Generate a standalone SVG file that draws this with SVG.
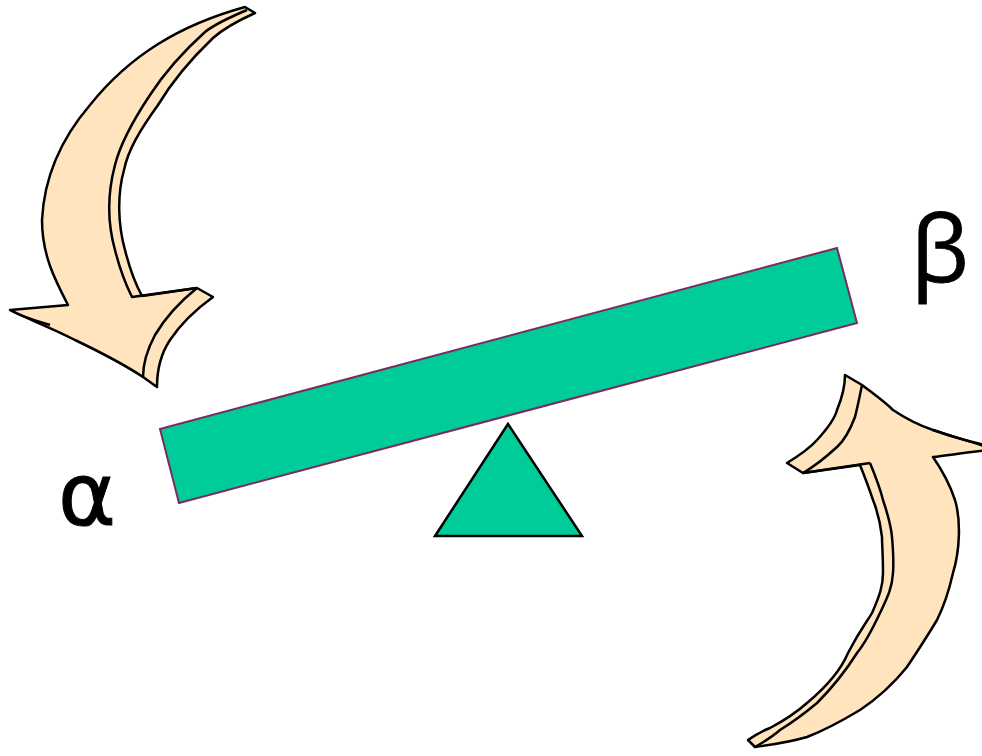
<svg xmlns="http://www.w3.org/2000/svg" width="982" height="756" viewBox="0 0 982 756">
<style>
.arrow{fill:#FFE4BE;stroke:#000;stroke-width:2.5;stroke-linejoin:round}
.line{fill:none;stroke:#000;stroke-width:2.5;stroke-linejoin:round}
.lbl{font-family:"DejaVu Sans","Open Sans",sans-serif;font-size:88px;fill:#000;stroke:#000;stroke-width:1}
.lbl2{font-family:"Open Sans","DejaVu Sans",sans-serif;font-size:92px;fill:#000;stroke:#000;stroke-width:0.8}
</style>
<rect width="982" height="756" fill="#fff"/>
<g id="plank">
<polygon points="160,429 837,248 857,323 179,503" fill="#00CC99" stroke="#7A2C5C" stroke-width="2"/>
</g>
<g id="fulcrum">
<polygon points="508,424 435,536 582,536" fill="#00CC99" stroke="#000" stroke-width="2.5"/>
</g>
<g id="arrow-top-left">
<path class="arrow" d="M245,7 L255,13 C235,22 222,30 213,38 C190,60 170,85 158,105 C140,130 128,150 124,170 C117,195 118,225 125,250 C130,270 136,285 142,296 L197,288 L213,297 C195,310 180,325 170,340 C160,355 157,370 157,387 L143,377 C125,365 100,352 75,340 C50,327 25,318 10,310 L68,305 C55,280 42,255 42,220 C44,180 60,140 90,105 C130,55 180,25 245,7 Z"/>
<path class="line" d="M247,10 C228,18 215,24 205,32 C185,50 165,72 150,95 C132,122 120,145 115,165 C107,195 108,225 115,250 C120,270 126,285 132,297 L197,288"/>
<path class="line" d="M197,288 C182,300 165,318 155,335 C147,350 143,365 143,377"/>
<path class="line" d="M10,310 C25,318 40,322 50,325"/>
</g>
<g id="arrow-bottom-right">
<path class="arrow" d="M845,375 L862,385 C875,395 885,402 893,410 C905,418 918,425 933,430 C950,436 970,442 990,446 L990,450 C970,452 950,455 933,457 C942,470 950,485 955,500 C961,520 960,550 953,573 C948,595 942,610 937,620 C925,640 915,655 907,667 C890,688 875,700 860,710 C840,722 820,732 807,737 C790,742 770,745 755,747 L748,740 C755,735 762,731 770,728 C785,720 797,712 807,703 C825,688 840,672 848,653 C860,630 868,620 872,613 C880,595 883,585 883,573 C883,555 882,545 882,537 C880,520 877,510 873,500 C868,485 864,475 860,465 L803,473 L787,463 C800,455 810,448 817,440 C828,428 835,418 837,410 C842,398 845,388 845,375 Z"/>
<path class="line" d="M870,463 C875,475 880,488 883,500 C888,515 891,525 892,537 C893,550 894,560 893,573 C892,590 886,600 880,613 C872,630 866,642 857,653 C845,672 832,688 817,703 C805,713 793,722 780,730 C772,737 762,743 755,747"/>
<path class="line" d="M803,473 L870,463"/>
<path class="line" d="M862,385 C860,395 858,405 855,417 C850,430 845,440 837,447 C825,458 815,466 803,473"/>
<path class="line" d="M933,430 C950,436 970,441 990,448"/>
</g>
<g id="labels">
<text class="lbl" x="58" y="525">α</text>
<text class="lbl2" x="911" y="282">β</text>
</g>
</svg>
